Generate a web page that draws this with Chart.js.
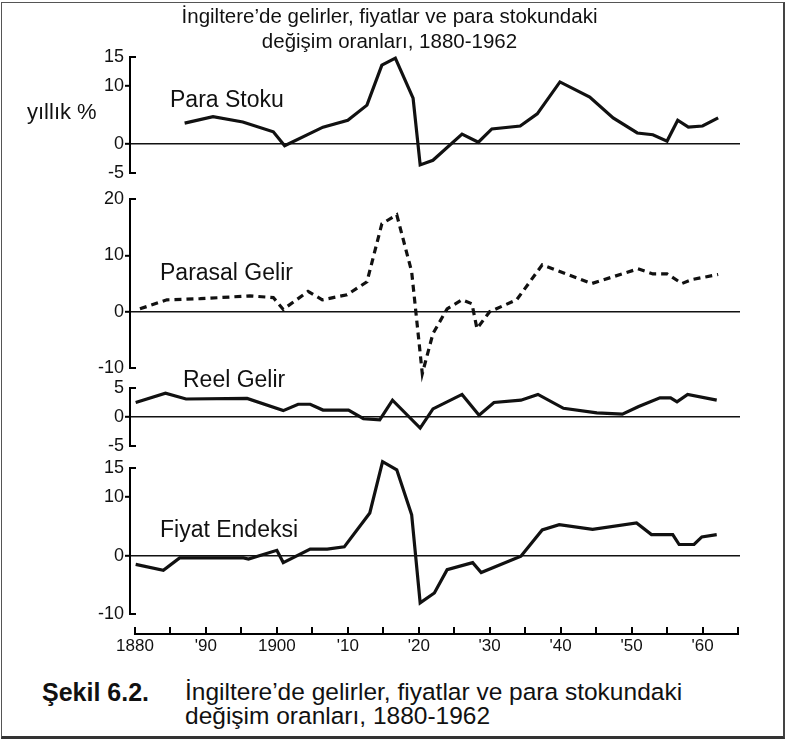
<!DOCTYPE html>
<html lang="tr">
<head>
<meta charset="utf-8">
<title>İngiltere'de gelirler, fiyatlar ve para stokundaki değişim oranları</title>
<script src="https://cdn.jsdelivr.net/npm/chart.js@4.4.1/dist/chart.umd.min.js"></script>
<style>
  html, body { margin: 0; padding: 0; background: #fff; }
  body { width: 787px; height: 747px; position: relative; overflow: hidden;
         font-family: "Liberation Sans", Arial, sans-serif; color: #111; }
  #frame { position: absolute; left: 1px; top: 2px; width: 781px; height: 733px;
           border: 1px solid #555; border-right: 2px solid #444; border-bottom: 3px solid #333; }
  #chart { position: absolute; left: 0; top: 0; z-index: 1; }
  .t { position: absolute; white-space: nowrap; line-height: 1; z-index: 2; }
  .title { left: -4px; width: 787px; text-align: center; font-size: 20.5px; }
  .lbl { font-size: 23px; }
  .cap { font-size: 24.5px; left: 185px; }
</style>
</head>
<body>
<div id="frame"></div>
<canvas id="chart" width="787" height="670"></canvas>

<div class="t title" style="top:6px">İngiltere’de gelirler, fiyatlar ve para stokundaki</div>
<div class="t title" style="top:31px">değişim oranları, 1880-1962</div>

<div class="t lbl" style="left:27px; top:101px; font-size:22px">yıllık %</div>
<div class="t lbl" style="left:170px; top:88px">Para Stoku</div>
<div class="t lbl" style="left:160px; top:261px">Parasal Gelir</div>
<div class="t lbl" style="left:183px; top:368px">Reel Gelir</div>
<div class="t lbl" style="left:160px; top:518px">Fiyat Endeksi</div>

<div class="t" style="left:42px; top:680px; font-size:25px; font-weight:bold">Şekil 6.2.</div>
<div class="t cap" style="top:680px">İngiltere’de gelirler, fiyatlar ve para stokundaki</div>
<div class="t cap" style="top:704px">değişim oranları, 1880-1962</div>

<script>
// x ekseni: 5 yılda bir çentik, 10 yılda bir etiket
const xTickYears = [1880, 1885, 1890, 1895, 1900, 1905, 1910, 1915, 1920,
                    1925, 1930, 1935, 1940, 1945, 1950, 1955, 1960, 1965];
const xTickLabels = ['1880', '', "'90", '', '1900', '', "'10", '', "'20",
                     '', "'30", '', "'40", '', "'50", '', "'60", ''];

// y eksenlerindeki etiketler
const paraTicks = [-5, 0, 10, 15];
const parasalTicks = [-10, 0, 10, 20];
const reelTicks = [-5, 0, 5];
const fiyatTicks = [-10, 0, 10, 15];

// Para Stoku (yıllık %)
const paraYears = [1887.0, 1891.0, 1895.2, 1899.5, 1901.1, 1906.5, 1910.0, 1912.7, 1914.8, 1916.7,
                   1919.2, 1920.2, 1922.0, 1926.1, 1928.4, 1930.3, 1934.3, 1936.7, 1939.9, 1944.1,
                   1947.4, 1950.8, 1953.0, 1955.0, 1956.5, 1958.0, 1960.0, 1962.2];
const paraValues = [3.6, 4.7, 3.8, 2.1, -0.3, 2.9, 4.1, 6.7, 13.6, 14.8,
                    7.9, -3.6, -2.8, 1.7, 0.3, 2.6, 3.1, 5.2, 10.7, 8.1,
                    4.5, 1.9, 1.6, 0.5, 4.1, 2.9, 3.1, 4.5];

// Parasal Gelir
const parasalYears = [1880.7, 1884.5, 1889.2, 1896.2, 1899.5, 1900.9, 1904.4, 1906.4, 1909.9, 1912.7,
                      1914.8, 1916.9, 1919.0, 1920.5, 1922.0, 1924.0, 1926.1, 1927.5, 1928.2, 1930.0,
                      1933.8, 1937.4, 1944.4, 1950.9, 1953.0, 1955.0, 1957.1, 1958.5, 1962.2];
const parasalValues = [0.5, 2.1, 2.3, 2.8, 2.5, 0.4, 3.6, 2.1, 3.0, 5.3,
                       15.6, 17.2, 7.1, -11.0, -3.9, 0.5, 2.1, 1.4, -3.0, 0.0,
                       2.1, 8.3, 5.0, 7.6, 6.7, 6.7, 5.0, 5.7, 6.6];

// Reel Gelir
const reelYears = [1880.1, 1884.3, 1887.2, 1895.8, 1900.9, 1903.0, 1904.7, 1906.5, 1910.1, 1912.2,
                   1914.5, 1916.3, 1920.2, 1922.0, 1926.1, 1928.5, 1930.6, 1934.4, 1936.8, 1940.4,
                   1945.1, 1948.7, 1951.0, 1954.0, 1955.5, 1956.4, 1957.9, 1962.0];
const reelValues = [2.5, 4.1, 3.1, 3.2, 1.1, 2.2, 2.2, 1.2, 1.2, -0.3,
                    -0.5, 2.9, -1.9, 1.4, 3.9, 0.3, 2.5, 2.9, 3.9, 1.5,
                    0.7, 0.5, 1.8, 3.3, 3.3, 2.6, 3.9, 2.9];

// Fiyat Endeksi
const fiyatYears = [1880.1, 1884.0, 1886.3, 1895.3, 1896.0, 1900.0, 1900.9, 1904.7, 1907.1, 1909.5,
                    1913.1, 1914.9, 1916.9, 1919.0, 1920.2, 1922.2, 1924.0, 1927.6, 1928.8, 1934.4,
                    1937.4, 1939.8, 1944.5, 1950.7, 1952.8, 1955.8, 1956.7, 1958.8, 1959.9, 1962.0];
const fiyatValues = [-1.5, -2.5, -0.4, -0.4, -0.6, 0.9, -1.2, 1.1, 1.1, 1.5,
                     7.3, 16.1, 14.7, 7.0, -8.1, -6.4, -2.4, -1.2, -2.9, -0.1,
                     4.4, 5.3, 4.5, 5.6, 3.6, 3.6, 1.9, 1.9, 3.2, 3.6];

function points(xs, ys) {
    return xs.map((x, i) => ({ x: x, y: ys[i] }));
}

const INK = '#111';
const FONT = '"Liberation Sans", Arial, sans-serif';
const panelIds = ['yPara', 'yParasal', 'yReel', 'yFiyat'];

// parantez uçları ve alttaki yıl ekseni (çentikler yukarı doğru)
const axisPlugin = {
    id: 'axisBrackets',
    afterDraw(chart) {
        const ctx = chart.ctx;
        const area = chart.chartArea;
        const left = Math.round(area.left);
        ctx.save();
        ctx.fillStyle = '#000';
        panelIds.forEach(id => {
            const s = chart.scales[id];
            const top = Math.round(s.getPixelForValue(s.max));
            const bot = Math.round(s.getPixelForValue(s.min));
            ctx.fillRect(left - 1, top - 1, 7, 2);
            ctx.fillRect(left - 1, bot - 1, 7, 2);
        });
        const xs = chart.scales.x;
        const yb = Math.round(area.bottom);
        const x0 = xs.getPixelForValue(xTickYears[0]);
        const x1 = xs.getPixelForValue(xTickYears[xTickYears.length - 1]);
        ctx.fillRect(x0 - 1, yb - 1, x1 - x0 + 2, 2);
        xTickYears.forEach(v => {
            const px = Math.round(xs.getPixelForValue(v));
            ctx.fillRect(px - 1, yb - 7, 2, 7);
        });
        ctx.restore();
    }
};

// panel ekseni: aralık tam olarak etiketlerin aralığı, kenar çizgisi = dikey parantez
function panelAxis(ticks, weight) {
    const lo = Math.min(...ticks), hi = Math.max(...ticks);
    return {
        type: 'linear',
        position: 'left',
        stack: 'panels',
        stackWeight: weight,
        min: lo,
        max: hi,
        afterBuildTicks: s => { s.ticks = ticks.map(v => ({ value: v })); },
        afterFit: s => { s.width = 130; },
        border: { display: true, color: '#000', width: 2 },
        grid: {
            drawOnChartArea: true,
            drawTicks: true,
            tickLength: 5,
            tickWidth: 2,
            color: c => (c.tick && c.tick.value === 0) ? INK : 'rgba(0,0,0,0)',
            tickColor: c => (c.tick && (c.tick.value === lo || c.tick.value === hi)) ? 'rgba(0,0,0,0)' : '#000',
            lineWidth: 1.6
        },
        ticks: {
            autoSkip: false,
            color: INK,
            padding: 1,
            font: { family: FONT, size: 18 },
            callback: v => String(v)
        }
    };
}

// paneller arasındaki boşluk
function gapAxis(weight) {
    return {
        type: 'linear',
        position: 'left',
        stack: 'panels',
        stackWeight: weight,
        min: 0,
        max: 1,
        afterBuildTicks: s => { s.ticks = []; },
        afterFit: s => { s.width = 130; },
        border: { display: false },
        grid: { display: false },
        ticks: { display: false }
    };
}

function lineSet(label, xs, ys, axis, dash) {
    return {
        label: label,
        data: points(xs, ys),
        yAxisID: axis,
        borderColor: INK,
        borderWidth: 3.2,
        borderDash: dash || [],
        pointRadius: 0,
        tension: 0,
        clip: false
    };
}

new Chart(document.getElementById('chart'), {
    type: 'line',
    data: {
        datasets: [
            lineSet('Para Stoku', paraYears, paraValues, 'yPara'),
            lineSet('Parasal Gelir', parasalYears, parasalValues, 'yParasal', [7, 5]),
            lineSet('Reel Gelir', reelYears, reelValues, 'yReel'),
            lineSet('Fiyat Endeksi', fiyatYears, fiyatValues, 'yFiyat')
        ]
    },
    options: {
        responsive: false,
        animation: false,
        layout: { padding: { top: 57, right: 47, left: 0, bottom: 0 } },
        plugins: { legend: { display: false }, tooltip: { enabled: false } },
        scales: {
            x: {
                type: 'linear',
                min: 1879.3,
                max: 1965.28,
                afterBuildTicks: s => { s.ticks = xTickYears.map(v => ({ value: v })); },
                afterFit: s => { s.height = 36; },
                border: { display: false },
                grid: { display: false, drawTicks: false, tickLength: 0 },
                ticks: {
                    autoSkip: false,
                    maxRotation: 0,
                    padding: 2,
                    color: INK,
                    font: { family: FONT, size: 17 },
                    callback: v => xTickLabels[xTickYears.indexOf(v)]
                }
            },
            // sıralama: sonra tanımlanan eksen üstte yer alır
            gap4: gapAxis(20),
            yFiyat: panelAxis(fiyatTicks, 146),
            gap3: gapAxis(22),
            yReel: panelAxis(reelTicks, 58),
            gap2: gapAxis(20),
            yParasal: panelAxis(parasalTicks, 169),
            gap1: gapAxis(26),
            yPara: panelAxis(paraTicks, 116)
        }
    },
    plugins: [axisPlugin]
});
</script>
</body>
</html>
